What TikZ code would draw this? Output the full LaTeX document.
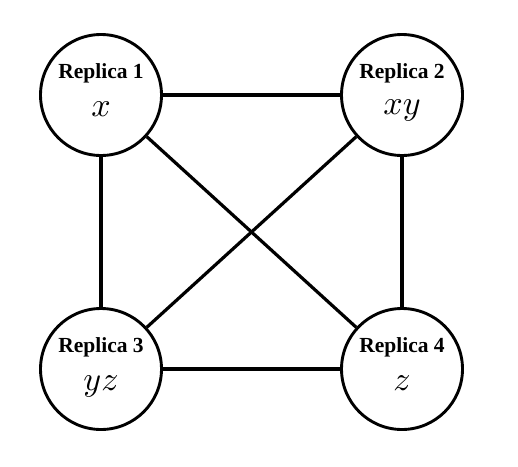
\documentclass[tikz,border=0pt]{standalone}
\usepackage{graphicx}
\usepackage{fontspec}
\setmainfont{Liberation Serif}
\newcommand{\bigmath}[1]{\scalebox{3.4}{$#1$}}
\begin{document}
\begin{tikzpicture}[x=1pt,y=-1pt,
  replica/.style={circle,draw,line width=2.9pt,minimum size=121pt,inner sep=0pt},
  conn/.style={line width=3.2pt},
  lbl/.style={font=\fontsize{21.5}{24}\selectfont\bfseries,anchor=base,inner sep=0pt},
  val/.style={anchor=base,inner sep=0pt}]
\useasboundingbox (0,0) rectangle (518,466);
\node[replica] (r1) at (101,95) {};
\node[replica] (r2) at (402,95) {};
\node[replica] (r3) at (101,369) {};
\node[replica] (r4) at (402,369) {};
\draw[conn] (r1) -- (r2);
\draw[conn] (r1) -- (r3);
\draw[conn] (r1) -- (r4);
\draw[conn] (r2) -- (r3);
\draw[conn] (r2) -- (r4);
\draw[conn] (r3) -- (r4);
\node[lbl] (l1) at (101,78) {Replica 1};
\node[lbl] (l2) at (402,78) {Replica 2};
\node[lbl] (l3) at (101,352) {Replica 3};
\node[lbl] (l4) at (402,352) {Replica 4};
\node[val] (v1) at (101,116) {\bigmath{x}};
\node[val] (v2) at (402,114) {\bigmath{xy}};
\node[val] (v3) at (101,390) {\bigmath{yz}};
\node[val] (v4) at (402,390) {\bigmath{z}};
\end{tikzpicture}
\end{document}
